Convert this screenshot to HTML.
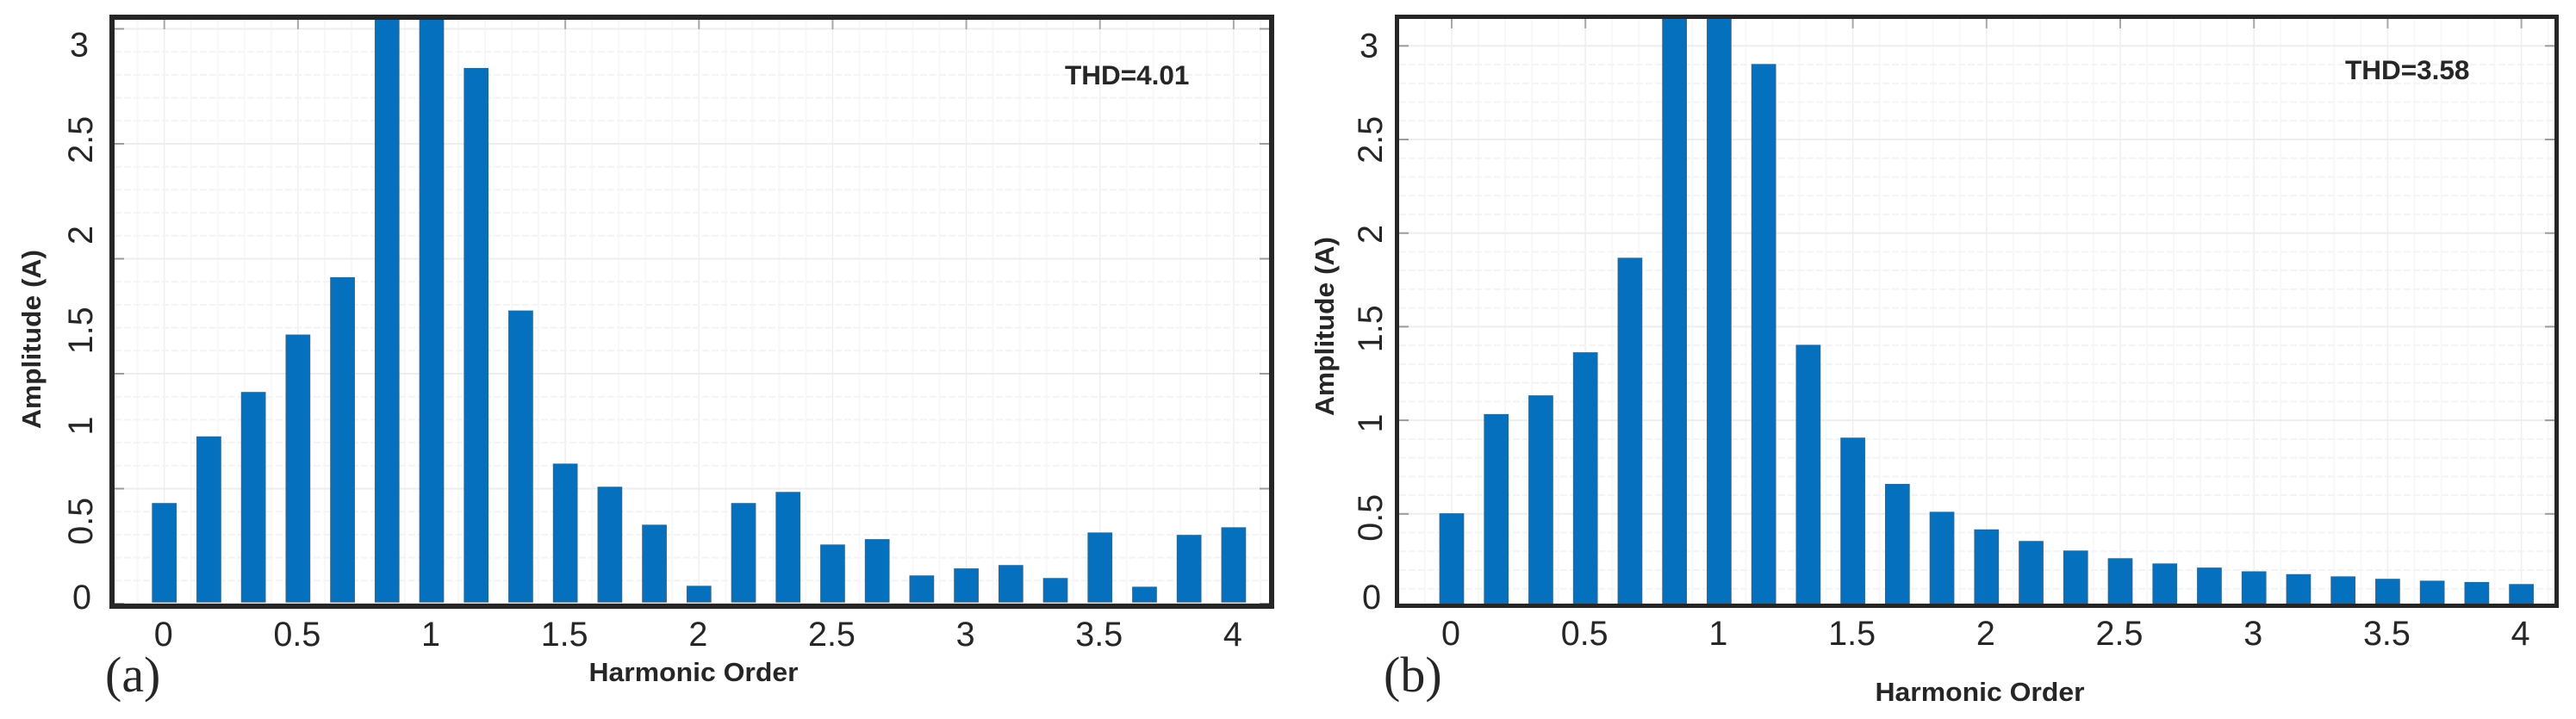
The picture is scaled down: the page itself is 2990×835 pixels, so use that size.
<!DOCTYPE html>
<html lang="en">
<head>
<meta charset="utf-8">
<title>Harmonic spectrum comparison</title>
<style>
  html, body { margin: 0; padding: 0; background: #fff; }
  body { width: 2990px; height: 835px; overflow: hidden; }
  svg { display: block; }
  text { font-family: "Liberation Sans", sans-serif; fill: #262626; }
  .tick { font-size: 39.5px; }
  .title { font-size: 31px; font-weight: bold; }
  .thd { font-size: 31.5px; font-weight: bold; }
  .panel-tag { font-family: "Liberation Serif", serif; font-size: 58px; }
</style>
</head>
<body>
<svg id="figure" xmlns="http://www.w3.org/2000/svg" width="2990" height="835" viewBox="0 0 2990 835">
  <rect x="0" y="0" width="2990" height="835" fill="#ffffff"/>
  <g id="panel-a"></g>
  <g id="panel-b"></g>
</svg>
<script>
const harmonicOrders = [0, 0.1667, 0.3333, 0.5, 0.6667, 0.8333, 1, 1.1667, 1.3333, 1.5, 1.6667, 1.8333, 2, 2.1667, 2.3333, 2.5, 2.6667, 2.8333, 3, 3.1667, 3.3333, 3.5, 3.6667, 3.8333, 4];
const amplitudesA = [0.54, 0.90, 1.14, 1.45, 1.76, 3.40, 3.40, 2.89, 1.58, 0.753, 0.628, 0.423, 0.093, 0.54, 0.60, 0.316, 0.345, 0.149, 0.187, 0.205, 0.135, 0.381, 0.088, 0.368, 0.409];
const amplitudesB = [0.50, 1.03, 1.13, 1.36, 1.865, 3.40, 3.40, 2.90, 1.40, 0.904, 0.657, 0.508, 0.414, 0.352, 0.301, 0.26, 0.232, 0.21, 0.19, 0.175, 0.163, 0.15, 0.14, 0.133, 0.122];
const xTickValues = [0, 0.5, 1, 1.5, 2, 2.5, 3, 3.5, 4];
const xTickLabels = ['0', '0.5', '1', '1.5', '2', '2.5', '3', '3.5', '4'];
const yTickValues = [0, 0.5, 1, 1.5, 2, 2.5, 3];
const yTickLabels = ['0', '0.5', '1', '1.5', '2', '2.5', '3'];

const SVG_NS = 'http://www.w3.org/2000/svg';

function svgEl(tag, attrs, parent) {
  const el = document.createElementNS(SVG_NS, tag);
  Object.keys(attrs).forEach(function (key) { el.setAttribute(key, attrs[key]); });
  parent.appendChild(el);
  return el;
}

function drawPanel(root, cfg, amplitudes) {
  const xPos = function (v) { return cfg.x0 + cfg.xUnit * v; };
  const yPos = function (v) { return cfg.y0 - cfg.yUnit * v; };
  const labelY = function (v) { return Math.min(cfg.labelZeroClamp, cfg.labelBase - cfg.labelUnit * v); };
  const innerW = cfg.right - cfg.left;
  const innerH = cfg.bottom - cfg.top;

  const clip = svgEl('clipPath', { id: cfg.id + '-clip' }, root);
  svgEl('rect', { x: cfg.left, y: cfg.top, width: innerW, height: innerH }, clip);

  const gridGroup = svgEl('g', { 'clip-path': 'url(#' + cfg.id + '-clip)' }, root);
  
  
  for (let v = -0.2; v <= 4.2; v += 0.1) {
    const major = Math.abs(v * 2 - Math.round(v * 2)) < 0.001;
    const line = svgEl('line', { x1: xPos(v), x2: xPos(v), y1: cfg.top, y2: cfg.bottom, stroke: major ? '#efefef' : '#f8f8f8', 'stroke-width': major ? 1.5 : 2 }, gridGroup);
    
    
  }
  for (let i = 0; i <= 30; i++) {
    const y = cfg.gridBase - cfg.gridMinor * i;
    if (y < cfg.top) { break; }
    const major = i % 5 === 0;
    const line = svgEl('line', { x1: cfg.left, x2: cfg.right, y1: y, y2: y, stroke: major ? '#eeeeee' : '#f4f4f4', 'stroke-width': 2, 'stroke-dasharray': major ? 'none' : '8 3' }, gridGroup);
    
    
    if (major) {
      const markL = svgEl('line', { x1: cfg.left, x2: cfg.left + 11, y1: y, y2: y, stroke: '#9c9c9c', 'stroke-width': 2 }, gridGroup);
      
      
      const markR = svgEl('line', { x1: cfg.right - 11, x2: cfg.right, y1: y, y2: y, stroke: '#9c9c9c', 'stroke-width': 2 }, gridGroup);
      
      
    }
  }
  xTickValues.forEach(function (v) {
    const mark = svgEl('line', { x1: xPos(v), x2: xPos(v), y1: cfg.top, y2: cfg.top + 11, stroke: '#a8a8a8', 'stroke-width': 2 }, gridGroup);
    
    
  });

  const barGroup = svgEl('g', { 'clip-path': 'url(#' + cfg.id + '-clip)' }, root);
  
  
  const barW = cfg.xUnit * 0.088;
  harmonicOrders.forEach(function (order, i) {
    const top = yPos(amplitudes[i]);
    const bar = svgEl('rect', { x: xPos(order) - barW / 2, y: top, width: barW, height: Math.max(0, cfg.barBottom - top), fill: '#0570bd', stroke: '#27689a', 'stroke-width': 1.4 }, barGroup);
    
    
  });

  const frame = svgEl('rect', { x: cfg.left - cfg.frameW / 2, y: cfg.top - cfg.frameW / 2, width: innerW + cfg.frameW, height: innerH + cfg.frameW, fill: 'none', stroke: '#262626', 'stroke-width': cfg.frameW }, root);
  
  

  xTickValues.forEach(function (v, i) {
    const t = svgEl('text', { class: 'tick', x: xPos(v) - 1, y: cfg.xLabelBaseline, 'text-anchor': 'middle' }, root);
    t.textContent = xTickLabels[i];
    
    
  });

  // the end labels stand upright, the rest are rotated
  yTickValues.forEach(function (v, i) {
    const cy = labelY(v);
    const upright = v === 0 || v === 3;
    const attrs = upright
      ? { class: 'tick', x: cfg.yLabelBaseline - 15 + (v === 0 ? 3 : 0), y: cy + 14, 'text-anchor': 'middle' }
      : { class: 'tick', x: 0, y: 0, 'text-anchor': 'middle', transform: 'translate(' + cfg.yLabelBaseline + ' ' + cy + ') rotate(-90)' };
    const t = svgEl('text', attrs, root);
    t.textContent = yTickLabels[i];
    
    
  });

  const yTitle = svgEl('text', { class: 'title', x: 0, y: 0, 'text-anchor': 'middle', textLength: 208, lengthAdjust: 'spacingAndGlyphs', transform: 'translate(' + cfg.yTitleX + ' ' + cfg.yTitleY + ') rotate(-90)' }, root);
  yTitle.textContent = 'Amplitude (A)';
  
  

  const xTitle = svgEl('text', { class: 'title', x: cfg.xTitleX, y: cfg.xTitleY, 'text-anchor': 'middle', textLength: 243, lengthAdjust: 'spacingAndGlyphs' }, root);
  xTitle.textContent = 'Harmonic Order';
  
  

  const thd = svgEl('text', { class: 'thd', x: cfg.thdX, y: cfg.thdY }, root);
  thd.textContent = cfg.thd;
  
  

  const tag = svgEl('text', { class: 'panel-tag', x: cfg.tagX, y: 803 }, root);
  tag.textContent = cfg.tag;
  
  
}

drawPanel(document.getElementById('panel-a'), {
  id: 'a', left: 133, right: 1473, top: 23, bottom: 701, barBottom: 699, frameW: 6,
  x0: 190.7, xUnit: 310.3, y0: 701, yUnit: 215,
  gridBase: 701, gridMinor: 26.7,
  labelBase: 716, labelUnit: 221.5, labelZeroClamp: 693,
  xLabelBaseline: 750, yLabelBaseline: 107,
  yTitleX: 47, yTitleY: 394, xTitleX: 805, xTitleY: 791,
  thd: 'THD=4.01', thdX: 1236, thdY: 98, tag: '(a)', tagX: 122
}, amplitudesA);

drawPanel(document.getElementById('panel-b'), {
  id: 'b', left: 1624, right: 2965, top: 22, bottom: 701, barBottom: 701, frameW: 5,
  x0: 1685, xUnit: 310.4, y0: 705.5, yUnit: 217.4,
  gridBase: 705.5, gridMinor: 21.74,
  labelBase: 711, labelUnit: 219.5, labelZeroClamp: 693,
  xLabelBaseline: 749, yLabelBaseline: 1604,
  yTitleX: 1548, yTitleY: 379, xTitleX: 2298, xTitleY: 814,
  thd: 'THD=3.58', thdX: 2722, thdY: 92, tag: '(b)', tagX: 1606
}, amplitudesB);
</script>
</body>
</html>
